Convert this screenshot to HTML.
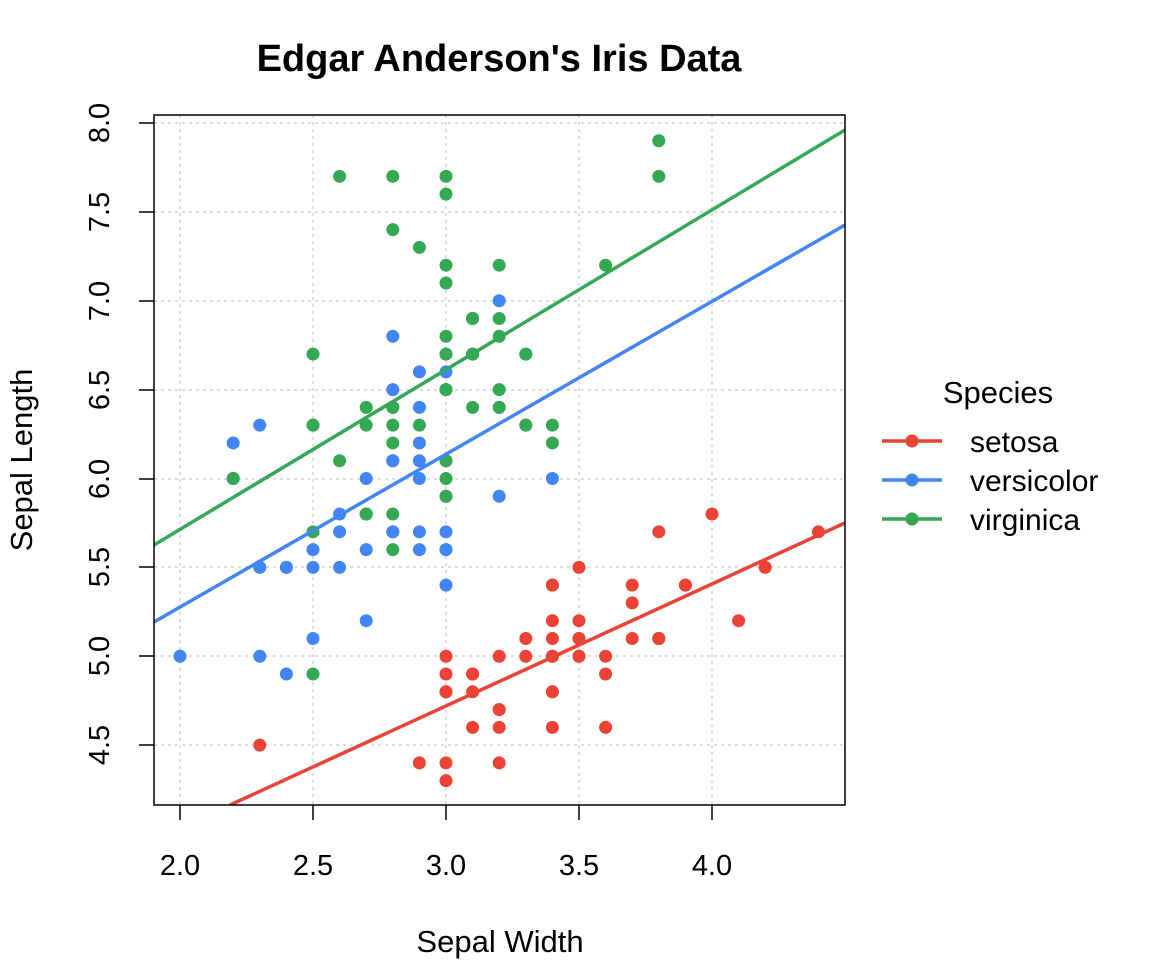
<!DOCTYPE html>
<html><head><meta charset="utf-8"><style>
html,body{margin:0;padding:0;background:#fff;}
svg text{font-family:"Liberation Sans",Arial,sans-serif;fill:#000;}
</style></head><body>
<svg id="s" width="1152" height="960" xmlns="http://www.w3.org/2000/svg">
<rect width="1152" height="960" fill="#fff"/>
<text x="499" y="71" font-size="38" font-weight="bold" text-anchor="middle">Edgar Anderson's Iris Data</text>
<g stroke="#d3d3d3" stroke-width="1.5" stroke-dasharray="3,4">
<line x1="180" y1="115" x2="180" y2="805"/><line x1="313" y1="115" x2="313" y2="805"/><line x1="446" y1="115" x2="446" y2="805"/><line x1="579" y1="115" x2="579" y2="805"/><line x1="712" y1="115" x2="712" y2="805"/>
<line x1="154" y1="123" x2="845" y2="123"/><line x1="154" y1="212" x2="845" y2="212"/><line x1="154" y1="301" x2="845" y2="301"/><line x1="154" y1="390" x2="845" y2="390"/><line x1="154" y1="479" x2="845" y2="479"/><line x1="154" y1="567" x2="845" y2="567"/><line x1="154" y1="656" x2="845" y2="656"/><line x1="154" y1="745" x2="845" y2="745"/>
</g>
<g id="pts"></g>
<defs><clipPath id="c"><rect x="154" y="115" width="691" height="690"/></clipPath></defs>
<g clip-path="url(#c)" stroke-width="3.5">
<line x1="230" y1="805" x2="845" y2="523" stroke="#EA4335"/>
<line x1="154" y1="622" x2="845" y2="225" stroke="#4285F4"/>
<line x1="154" y1="545" x2="845" y2="130" stroke="#34A853"/>
</g>
<rect x="154" y="115" width="691" height="690" fill="none" stroke="#000" stroke-width="1.5"/>
<g stroke="#000" stroke-width="1.5">
<line x1="180" y1="805" x2="180" y2="820"/><line x1="313" y1="805" x2="313" y2="820"/><line x1="446" y1="805" x2="446" y2="820"/><line x1="579" y1="805" x2="579" y2="820"/><line x1="712" y1="805" x2="712" y2="820"/>
<line x1="139" y1="123" x2="154" y2="123"/><line x1="139" y1="212" x2="154" y2="212"/><line x1="139" y1="301" x2="154" y2="301"/><line x1="139" y1="390" x2="154" y2="390"/><line x1="139" y1="479" x2="154" y2="479"/><line x1="139" y1="567" x2="154" y2="567"/><line x1="139" y1="656" x2="154" y2="656"/><line x1="139" y1="745" x2="154" y2="745"/>
</g>
<g font-size="29" text-anchor="middle">
<text x="180" y="875">2.0</text><text x="313" y="875">2.5</text><text x="446" y="875">3.0</text><text x="579" y="875">3.5</text><text x="712" y="875">4.0</text>
<text transform="translate(109,123) rotate(-90)">8.0</text>
<text transform="translate(109,212) rotate(-90)">7.5</text>
<text transform="translate(109,301) rotate(-90)">7.0</text>
<text transform="translate(109,390) rotate(-90)">6.5</text>
<text transform="translate(109,479) rotate(-90)">6.0</text>
<text transform="translate(109,567) rotate(-90)">5.5</text>
<text transform="translate(109,656) rotate(-90)">5.0</text>
<text transform="translate(109,745) rotate(-90)">4.5</text>
</g>
<g font-size="31" text-anchor="middle">
<text x="500" y="952">Sepal Width</text>
<text transform="translate(32,460) rotate(-90)">Sepal Length</text>
<text x="998" y="403" font-size="31">Species</text>
</g>
<g stroke-width="3.5">
<line x1="882" y1="441" x2="942" y2="441" stroke="#EA4335"/><circle cx="912" cy="441" r="6.5" fill="#EA4335"/>
<line x1="882" y1="480" x2="942" y2="480" stroke="#4285F4"/><circle cx="912" cy="480" r="6.5" fill="#4285F4"/>
<line x1="882" y1="519" x2="942" y2="519" stroke="#34A853"/><circle cx="912" cy="519" r="6.5" fill="#34A853"/>
</g>
<g font-size="30"><text x="970" y="452">setosa</text><text x="970" y="491">versicolor</text><text x="970" y="530">virginica</text></g>
</svg>
<script>
var d={
"#EA4335":"5.1,3.5 4.9,3.0 4.7,3.2 4.6,3.1 5.0,3.6 5.4,3.9 4.6,3.4 5.0,3.4 4.4,2.9 4.9,3.1 5.4,3.7 4.8,3.4 4.8,3.0 4.3,3.0 5.8,4.0 5.7,4.4 5.4,3.9 5.1,3.5 5.7,3.8 5.1,3.8 5.4,3.4 5.1,3.7 4.6,3.6 5.1,3.3 4.8,3.4 5.0,3.0 5.0,3.4 5.2,3.5 5.2,3.4 4.7,3.2 4.8,3.1 5.4,3.4 5.2,4.1 5.5,4.2 4.9,3.1 5.0,3.2 5.5,3.5 4.9,3.6 4.4,3.0 5.1,3.4 5.0,3.5 4.5,2.3 4.4,3.2 5.0,3.5 5.1,3.8 4.8,3.0 5.1,3.8 4.6,3.2 5.3,3.7 5.0,3.3",
"#4285F4":"7.0,3.2 6.4,3.2 6.9,3.1 5.5,2.3 6.5,2.8 5.7,2.8 6.3,3.3 4.9,2.4 6.6,2.9 5.2,2.7 5.0,2.0 5.9,3.0 6.0,2.2 6.1,2.9 5.6,2.9 6.7,3.1 5.6,3.0 5.8,2.7 6.2,2.2 5.6,2.5 5.9,3.2 6.1,2.8 6.3,2.5 6.1,2.8 6.4,2.9 6.6,3.0 6.8,2.8 6.7,3.0 6.0,2.9 5.7,2.6 5.5,2.4 5.5,2.4 5.8,2.7 6.0,2.7 5.4,3.0 6.0,3.4 6.7,3.1 6.3,2.3 5.6,3.0 5.5,2.5 5.5,2.6 6.1,3.0 5.8,2.6 5.0,2.3 5.6,2.7 5.7,3.0 5.7,2.9 6.2,2.9 5.1,2.5 5.7,2.8",
"#34A853":"6.3,3.3 5.8,2.7 7.1,3.0 6.3,2.9 6.5,3.0 7.6,3.0 4.9,2.5 7.3,2.9 6.7,2.5 7.2,3.6 6.5,3.2 6.4,2.7 6.8,3.0 5.7,2.5 5.8,2.8 6.4,3.2 6.5,3.0 7.7,3.8 7.7,2.6 6.0,2.2 6.9,3.2 5.6,2.8 7.7,2.8 6.3,2.7 6.7,3.3 7.2,3.2 6.2,2.8 6.1,3.0 6.4,2.8 7.2,3.0 7.4,2.8 7.9,3.8 6.4,2.8 6.3,2.8 6.1,2.6 7.7,3.0 6.3,3.4 6.4,3.1 6.0,3.0 6.9,3.1 6.7,3.1 6.9,3.1 5.8,2.7 6.8,3.2 6.7,3.3 6.7,3.0 6.3,2.5 6.5,3.0 6.2,3.4 5.9,3.0"};
var g=document.getElementById("pts"),h="";
for(var c in d){d[c].split(" ").forEach(function(p){var a=p.split(",");var y=123+(8-a[0])*177.75,x=180+(a[1]-2)*266;h+='<circle cx="'+x+'" cy="'+y+'" r="6.5" fill="'+c+'"/>';});}
g.innerHTML=h;
</script>
</body></html>
